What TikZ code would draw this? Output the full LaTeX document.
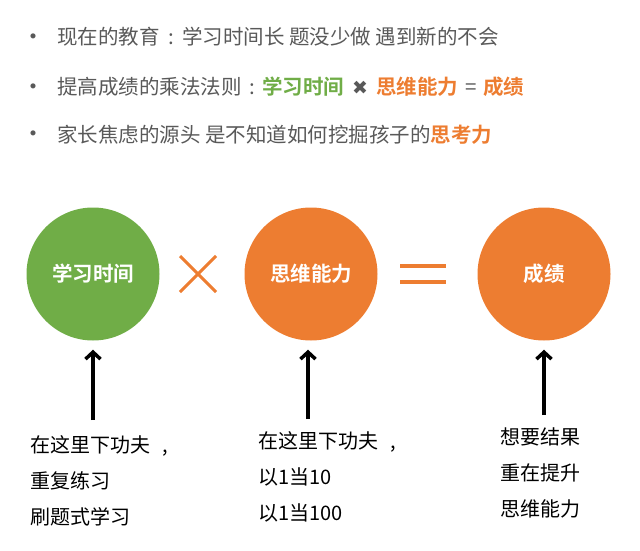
\documentclass[tikz,border=0pt]{standalone}
\usepackage{fontspec}
\usetikzlibrary{arrows.meta}
\newfontfamily\cjk[BoldFont={Noto Sans CJK SC Bold}]{Noto Sans CJK SC}
\newfontfamily\sym{DejaVu Sans}
\definecolor{xgreen}{HTML}{70AD47}
\definecolor{xorange}{HTML}{ED7D31}
\definecolor{xgray}{HTML}{595959}
\begin{document}
\begin{tikzpicture}[x=1pt, y=-1pt, >={Straight Barb[length=7pt,width=15pt]},
  dot/.style={text=xgray, font=\cjk\fontsize{24}{24}\selectfont, inner sep=0},
  line/.style={anchor=base west, inner sep=0, text=xgray, font=\cjk\fontsize{20.5}{24}\selectfont},
  ball/.style={circle, minimum size=133pt, inner sep=0, text=white, font=\cjk\bfseries\fontsize{20.5}{24}\selectfont},
  note/.style={anchor=base west, inner sep=0, align=left, text=black, font=\cjk\fontsize{20}{36}\selectfont},
  up/.style={->, line width=3.5pt, shorten >=9pt}]

 \useasboundingbox (0,0) rectangle (640,551);

 % bullets
 \node[dot] (d1) at (33,40){•};
 \node[dot] (d2) at (33,90){•};
 \node[dot] (d3) at (33,137){•};
 \node[line] (l1) at (57,45){现在的教育\makebox[1.1em]{:}学习时间长 题没少做 遇到新的不会};
 \node[line] (l2) at (57,95){提高成绩的乘法法则\makebox[1em]{:}\textbf{\color{xgreen}学习时间}\hspace{8pt}{\sym\fontsize{19}{20}\selectfont ✖}\hspace{8pt}\textbf{\color{xorange}思维能力}\hspace{7pt}=\hspace{7pt}\textbf{\color{xorange}成绩}};
 \node[line] (l3) at (57,142){家长焦虑的源头 是不知道如何挖掘孩子的\textbf{\color{xorange}思考力}};

 % circles
 \node[ball, fill=xgreen] (study) at (93,274){学习时间};
 \node[ball, fill=xorange] (think) at (311,274){思维能力};
 \node[ball, fill=xorange] (score) at (544,274){成绩};
 \draw[xorange, line width=3pt](180,256)--(216,292) (180,292)--(216,256);
 \draw[xorange, line width=3.5pt](400,266)--(446,266) (400,282)--(446,282);

 % notes (base = last line)
 \node[note] (n1) at (30,524){在这里下功夫\hspace{0.6em},\\重复练习\\刷题式学习};
 \node[note] (n2) at (258,520){在这里下功夫\hspace{0.6em},\\以1当10\\以1当100};
 \node[note] (n3) at (500,516){想要结果\\重在提升\\思维能力};
 \coordinate (a1) at (93,420);
 \coordinate (a2) at (308,419);
 \coordinate (a3) at (544,415);
 \draw[up](a1)--(study);
 \draw[up](a2)--(a2|-think.south);
 \draw[up](a3)--(score);

\end{tikzpicture}
\end{document}
